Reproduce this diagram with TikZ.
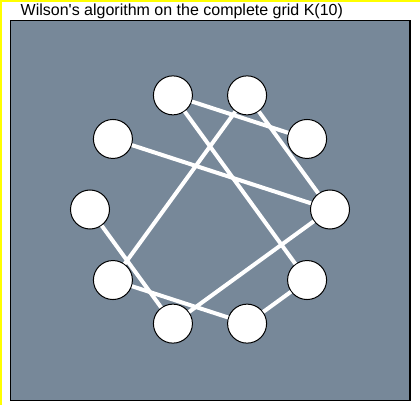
\documentclass[tikz,border=0pt]{standalone}
\usepackage{fontspec}
\newfontfamily\titlefont{Liberation Sans}[Ligatures=ResetAll]
\definecolor{slate}{RGB}{119,136,153}
\definecolor{frame}{RGB}{255,255,0}

\begin{document}
\begin{tikzpicture}[x=1pt,y=1pt,
		vertex/.style={circle,draw=black,fill=white,line width=1pt,minimum size=39pt,inner sep=0pt},
		tree edge/.style={white,line width=4pt}
	]
	\useasboundingbox (0,0) rectangle (420,410);
	\fill[frame] (0,408) rectangle (420,410);
	\fill[frame] (0,5) rectangle (2,410);
	
	\node[anchor=base west,inner sep=0pt] (title) at (20.5,394) {\titlefont\fontsize{16}{19}\selectfont Wilson's algorithm on the complete grid K(10)};
	\draw[fill=slate,line width=1.5pt] (10.5,9.5) rectangle (410,389.5);
	
	\coordinate (c) at (210,200.5);
	\foreach \k in {0,...,9}
		\node[vertex] (v\k) at ([shift={(c)}]\k*36:120) {};
	
	\foreach \a/\b in {3/1,3/9,2/6,2/0,4/0,5/7,6/8,7/0,8/9}
		\draw[tree edge] (v\a) -- (v\b);
\end{tikzpicture}
\end{document}
